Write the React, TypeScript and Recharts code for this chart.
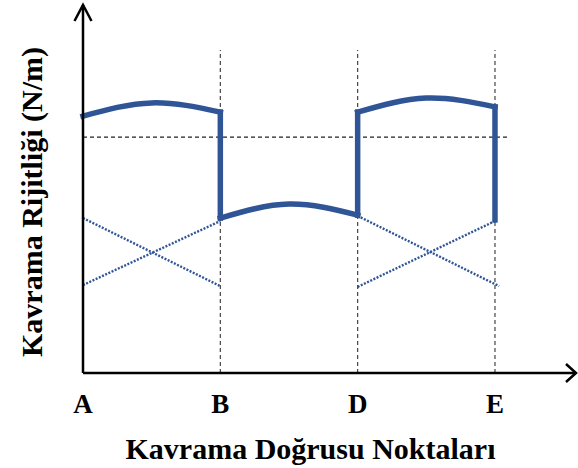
import React from "react";
import {
  LineChart,
  Line,
  XAxis,
  YAxis,
  ReferenceLine,
  ReferenceDot,
} from "recharts";

// contact points along the line of action
const pointLabels = ["A", "B", "D", "E"];
const pointPos = [0, 1, 2, 3];

// total mesh stiffness (thick curve), split into arcs and jumps
const arcAB = [
  { x: 0, y: 69.8 },
  { x: 0.5, y: 73.4 },
  { x: 1, y: 70.9 },
];
const dropB = [
  { x: 1, y: 70.9 },
  { x: 1, y: 42.1 },
];
const arcBD = [
  { x: 1, y: 42.1 },
  { x: 1.5, y: 45.9 },
  { x: 2, y: 42.9 },
];
const riseD = [
  { x: 2, y: 42.9 },
  { x: 2, y: 70.9 },
];
const arcDE = [
  { x: 2, y: 70.9 },
  { x: 2.5, y: 74.7 },
  { x: 3, y: 72.3 },
];
const dropE = [
  { x: 3, y: 72.3 },
  { x: 3, y: 41.6 },
];

// single tooth pair stiffness in the double contact zones
const pairAB1 = [
  { x: 0, y: 42.1 },
  { x: 1, y: 23.6 },
];
const pairAB2 = [
  { x: 0, y: 23.9 },
  { x: 1, y: 41.3 },
];
const pairDE1 = [
  { x: 2, y: 42.7 },
  { x: 3.03, y: 23.6 },
];
const pairDE2 = [
  { x: 2, y: 23.4 },
  { x: 3, y: 41.3 },
];

const meanStiffness = 64.1;
const guideTop = 87.8;
const xMax = 3.59;
const yMax = 100;

const BLUE = "#2F5597";
const FONT = "'Liberation Serif', 'Times New Roman', serif";

const thickSeries = [arcAB, dropB, arcBD, riseD, arcDE, dropE];
const dottedSeries = [pairAB1, pairAB2, pairDE1, pairDE2];

const UpArrow = (props: any) => {
  const { cx, cy } = props;
  return (
    <path
      d={`M${cx - 8.5},${cy + 16} L${cx},${cy} L${cx + 8.5},${cy + 16}`}
      fill="none"
      stroke="#000"
      strokeWidth={2.5}
    />
  );
};

const RightArrow = (props: any) => {
  const { cx, cy } = props;
  return (
    <path
      d={`M${cx - 10},${cy - 9} L${cx},${cy} L${cx - 10},${cy + 9}`}
      fill="none"
      stroke="#000"
      strokeWidth={2.5}
    />
  );
};

const YTitle = () => (
  <text
    x={31}
    y={202}
    transform="rotate(-90 31 202)"
    textAnchor="middle"
    dominantBaseline="central"
    fontFamily={FONT}
    fontWeight="bold"
    fontSize={30}
    fill="#000"
  >
    Kavrama Rijitliği (N/m)
  </text>
);

export default function App() {
  return (
    <div style={{ position: "absolute", left: 0, top: 0 }}>
      <LineChart
        width={578}
        height={468}
        margin={{ top: 5, right: 2, left: 0, bottom: 0 }}
      >
        <XAxis
          type="number"
          dataKey="x"
          domain={[0, xMax]}
          ticks={pointPos}
          tickFormatter={(v: number) => pointLabels[pointPos.indexOf(v)]}
          tickLine={false}
          tickSize={0}
          tickMargin={21}
          height={95}
          axisLine={{ stroke: "#000", strokeWidth: 2.5 }}
          tick={{ fontFamily: FONT, fontWeight: "bold", fontSize: 27, fill: "#000" }}
          interval={0}
          label={{
            value: "Kavrama Doğrusu Noktaları",
            position: "insideBottom",
            offset: 9,
            dx: -19,
            style: { fontFamily: FONT, fontWeight: "bold", fontSize: 30, fill: "#000" },
          }}
        />
        <YAxis
          type="number"
          domain={[0, yMax]}
          width={83}
          tick={false}
          tickLine={false}
          axisLine={{ stroke: "#000", strokeWidth: 2.5 }}
          label={<YTitle />}
        />

        {pointPos.slice(1).map((p) => (
          <ReferenceLine
            key={`g${p}`}
            segment={[
              { x: p, y: 0 },
              { x: p, y: guideTop },
            ]}
            stroke="#444"
            strokeWidth={1.2}
            strokeDasharray="4 3"
          />
        ))}
        <ReferenceLine
          segment={[
            { x: 0, y: meanStiffness },
            { x: 3.1, y: meanStiffness },
          ]}
          stroke="#222"
          strokeWidth={1.4}
          strokeDasharray="4 3"
        />

        {dottedSeries.map((d, i) => (
          <Line
            key={`p${i}`}
            data={d}
            dataKey="y"
            type="linear"
            stroke={BLUE}
            strokeWidth={2.4}
            strokeDasharray="2 1.5"
            dot={false}
            activeDot={false}
            isAnimationActive={false}
          />
        ))}
        {thickSeries.map((d, i) => (
          <Line
            key={`t${i}`}
            data={d}
            dataKey="y"
            type="natural"
            stroke={BLUE}
            strokeWidth={5.5}
            strokeLinecap="square"
            dot={false}
            activeDot={false}
            isAnimationActive={false}
          />
        ))}

        <ReferenceDot x={0} y={yMax} r={0} shape={<UpArrow />} ifOverflow="visible" />
        <ReferenceDot x={xMax} y={0} r={0} shape={<RightArrow />} ifOverflow="visible" />
      </LineChart>
    </div>
  );
}
